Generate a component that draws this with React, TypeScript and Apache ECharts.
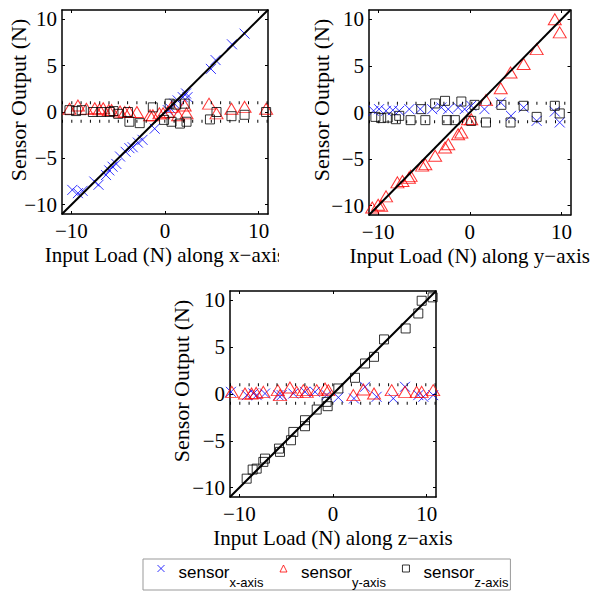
import React, { useEffect, useRef } from "react";
import * as echarts from "echarts";

// ---- tick values ----
const xTicks = [-10, 0, 10];
const yTicks = [-10, -5, 0, 5, 10];
const axisRange = [-11, 11];
const idealLine = [-11, 11];
const bandLevels = [-1, 1];

// ---- Plot 1: load along x-axis ----
const p1SxIn = [-9.9, -9.3, -8.8, -7.55, -7.1, -6.3, -5.95, -5.6, -5.2, -4.8, -4.2, -3.8, -3.45, -2.9, -2.4, -1.1, 0.3, 0.6, 1.0, 1.35, 1.9, 2.25, 2.4, 4.9, 5.4, 7.15, 8.5];
const p1SxOut = [-8.4, -8.75, -8.5, -7.5, -7.85, -6.8, -6.3, -5.9, -5.6, -4.8, -4.3, -3.9, -3.8, -3.3, -3.0, -1.8, 0.2, 0.35, 0.9, 1.25, 1.6, 2.0, 1.6, 4.65, 5.6, 7.3, 8.45];
const p1SyIn = [-10.2, -9.3, -8.4, -7.5, -7.0, -6.6, -6.0, -5.7, -4.8, -4.3, -3.8, -3.0, -1.6, -1.3, -0.6, -0.2, 0.3, 0.7, 1.4, 2.1, 2.3, 4.7, 5.5, 7.1, 8.5, 10.8];
const p1SyOut = [0.35, 0.7, 0.35, 0.4, 0.3, 0.4, 0.2, 0.2, 0.05, 0.0, 0.0, 0.0, -0.35, -0.35, -0.15, -0.15, 0.0, 0.55, -0.35, 0.7, -0.15, 0.9, -0.15, 0.35, 0.55, 0.35];
const p1SzIn = [-10.2, -9.5, -8.9, -7.7, -6.8, -5.9, -5.5, -5.0, -3.95, -3.8, -2.7, -1.3, -0.1, 0.5, 0.7, 1.2, 1.6, 2.1, 2.3, 4.8, 5.5, 7.1, 8.5, 10.8];
const p1SzOut = [0.2, 0.1, 0.2, 0.0, 0.0, 0.0, 0.1, -0.2, 0.0, -1.05, -1.2, 0.5, -0.85, 0.9, -1.05, 0.8, -1.25, 0.9, -1.05, -0.8, 0.0, -0.45, -0.3, 0.0];

// ---- Plot 2: load along y-axis ----
const p2SxIn = [-10.5, -9.9, -9.14, -8.4, -7.7, -6.6, -5.4, -4.1, -3.1, -2.35, -1.27, -0.56, 0.16, 1.6, 3.38, 4.5, 5.88, 7.3, 9.28, 9.82];
const p2SxOut = [0.18, 0.36, 0.18, 0.25, 0.18, 0.36, 0.36, 0.36, 0.54, 0.36, 0.54, 0.36, 0.72, 0.36, 1.07, -0.36, 0.54, -0.9, 0.1, -1.07];
const p2SyIn = [-10.65, -10.0, -9.67, -9.14, -7.9, -7.35, -6.64, -6.46, -5.2, -4.85, -3.78, -2.7, -2.35, -1.27, -0.92, -0.2, 0.16, 1.77, 3.38, 4.45, 5.88, 7.3, 9.28, 9.82];
const p2SyOut = [-10.2, -9.9, -10.0, -9.0, -7.5, -7.35, -7.0, -6.8, -5.7, -5.55, -4.65, -3.76, -3.4, -2.33, -2.15, -0.72, -0.72, 1.33, 2.6, 4.3, 5.2, 6.8, 10.0, 8.6];
const p2SzIn = [-10.3, -9.67, -8.96, -8.07, -7.7, -6.46, -5.3, -4.85, -3.78, -2.7, -2.5, -1.63, -0.92, 0.16, 0.52, 1.77, 3.45, 4.45, 5.88, 7.3, 9.28, 9.82];
const p2SzOut = [-0.47, -0.6, -0.54, -0.72, -0.36, -0.82, 0.36, -0.82, 0.97, 1.25, -0.82, -0.82, 1.18, -0.9, 0.82, -1.07, 0.82, -1.07, 0.72, -0.47, 0.72, -0.1];

// ---- Plot 3: load along z-axis ----
const p3SxIn = [-10.9, -9.2, -8.5, -8.15, -7.26, -5.84, -5.48, -4.24, -2.99, -1.92, -0.68, 0.57, 2.24, 3.42, 4.66, 6.44, 7.69, 9.11, 9.65, 10.7];
const p3SxOut = [0.23, -0.12, 0.05, -0.12, 0.05, -0.12, -0.12, 0.05, 0.23, 0.23, -0.12, -0.37, -0.48, 0.77, -0.3, -0.48, 0.77, -0.12, -0.3, -0.12];
const p3SyIn = [-10.8, -9.4, -8.7, -8.2, -7.44, -5.9, -5.66, -4.6, -3.88, -3.17, -2.8, -1.74, -0.85, -0.5, 2.17, 3.24, 4.38, 6.27, 7.69, 8.93, 9.47, 10.7];
const p3SyOut = [0.23, 0.05, 0.05, 0.12, 0.23, 0.41, -0.12, 0.7, 0.23, 0.41, 0.23, 0.41, 0.59, 0.41, -0.12, 0.48, 0.05, 0.41, 0.23, 0.23, 0.23, 0.41];
const p3SzIn = [-9.22, -8.58, -8.15, -7.44, -7.26, -5.77, -5.66, -4.49, -4.24, -2.99, -2.99, -1.74, -0.68, -0.57, 0.57, 2.35, 3.42, 4.38, 5.45, 7.76, 9.11, 9.47, 10.64];
const p3SzOut = [-9.04, -8.07, -7.97, -7.25, -6.9, -5.83, -6.18, -4.94, -4.05, -2.8, -3.44, -1.66, -0.84, -1.3, 0.59, 1.73, 3.26, 3.97, 5.83, 7.0, 8.6, 9.96, 10.32];

const xTitles = ["Input Load (N) along x\u2212axis", "Input Load (N) along y\u2212axis", "Input Load (N) along z\u2212axis"];
const yTitle = "Sensor Output (N)";
const seriesNames = ["sensorX", "sensorY", "sensorZ"];
const seriesSubs = ["x-axis", "y-axis", "z-axis"];

const plots = [
  { sx: [p1SxIn, p1SxOut], sy: [p1SyIn, p1SyOut], sz: [p1SzIn, p1SzOut] },
  { sx: [p2SxIn, p2SxOut], sy: [p2SyIn, p2SyOut], sz: [p2SzIn, p2SzOut] },
  { sx: [p3SxIn, p3SxOut], sy: [p3SyIn, p3SyOut], sz: [p3SzIn, p3SzOut] },
];

const grids = [
  { left: 62, top: 10, width: 206, height: 204 },
  { left: 369, top: 10, width: 205, height: 205 },
  { left: 230, top: 291, width: 206, height: 206 },
];
const yTitlePos = [
  [18, 100],
  [321, 100],
  [181, 381],
];

const SERIF = "'Liberation Serif', 'Times New Roman', serif";
const SANS = "'Liberation Sans', Arial, sans-serif";
const X_SYMBOL = "path://M0,0L10,10M10,0L0,10";
const fmt = (v: number) => (v < 0 ? "\u2212" + Math.abs(v) : String(v));
const zip = (a: number[], b: number[]) => a.map((v, i) => [v, b[i]]);

const markerStyles = [
  { symbol: X_SYMBOL, symbolSize: 10, itemStyle: { color: "#0000ff", borderColor: "#0000ff", borderWidth: 1 } },
  { symbol: "triangle", symbolSize: [13, 11], itemStyle: { color: "transparent", borderColor: "#ff0000", borderWidth: 1 } },
  { symbol: "rect", symbolSize: 9, itemStyle: { color: "transparent", borderColor: "#000", borderWidth: 1 } },
];
const legendIcons = [
  { icon: X_SYMBOL, itemStyle: { color: "#0000ff", borderColor: "#0000ff", borderWidth: 1 } },
  { icon: "triangle", itemStyle: { color: "transparent", borderColor: "#ff0000", borderWidth: 1 } },
  { icon: "rect", itemStyle: { color: "transparent", borderColor: "#000", borderWidth: 1 } },
];

export default function App() {
  const ref = useRef<HTMLDivElement>(null);
  useEffect(() => {
    if (!ref.current) return;
    const chart = echarts.init(ref.current, null, { renderer: "svg" });
    const xAxis: any[] = [];
    const yAxis: any[] = [];
    const series: any[] = [];
    grids.forEach((g, i) => {
      const axisLine = { onZero: false, lineStyle: { color: "#000", width: 1.5 } };
      xAxis.push({
        gridIndex: i, type: "value", min: axisRange[0], max: axisRange[1], position: "bottom",
        axisLine, splitLine: { show: false },
        axisTick: { inside: true, length: 3, customValues: xTicks, lineStyle: { color: "#000" } },
        axisLabel: { customValues: xTicks, formatter: fmt, fontFamily: SERIF, fontSize: 21, color: "#000", margin: 6 },
        name: xTitles[i], nameLocation: "middle", nameGap: 30,
        nameTextStyle: { fontFamily: SERIF, fontSize: 21, color: "#000" },
      });
      xAxis.push({
        gridIndex: i, type: "value", min: axisRange[0], max: axisRange[1], position: "top",
        axisLine, splitLine: { show: false },
        axisTick: { inside: true, length: 3, customValues: xTicks, lineStyle: { color: "#000" } },
        axisLabel: { show: false },
      });
      yAxis.push({
        gridIndex: i, type: "value", min: axisRange[0], max: axisRange[1], position: "left",
        axisLine, splitLine: { show: false },
        axisTick: { inside: true, length: 3, customValues: yTicks, lineStyle: { color: "#000" } },
        axisLabel: { customValues: yTicks, formatter: fmt, fontFamily: SERIF, fontSize: 21, color: "#000", margin: 5 },
      });
      yAxis.push({
        gridIndex: i, type: "value", min: axisRange[0], max: axisRange[1], position: "right",
        axisLine, splitLine: { show: false },
        axisTick: { inside: true, length: 3, customValues: yTicks, lineStyle: { color: "#000" } },
        axisLabel: { show: false },
      });
      const p = plots[i];
      const ax = { xAxisIndex: 2 * i, yAxisIndex: 2 * i };
      [p.sx, p.sy, p.sz].forEach((d, k) => {
        series.push({ ...ax, type: "scatter", name: seriesNames[k], data: zip(d[0], d[1]), ...markerStyles[k] });
      });
      series.push({
        ...ax, type: "line", name: "ideal", data: [[idealLine[0], idealLine[0]], [idealLine[1], idealLine[1]]],
        symbol: "none", lineStyle: { color: "#000", width: 2 },
      });
      bandLevels.forEach((b) => {
        series.push({
          ...ax, type: "line", name: "band", data: [[axisRange[0], b], [axisRange[1], b]],
          symbol: "none", lineStyle: { color: "#000", width: 3, type: [1, 8.3] },
        });
      });
    });

    const graphic: any[] = yTitlePos.map((pos) => ({
      type: "text", x: pos[0], y: pos[1], rotation: Math.PI / 2,
      style: { text: yTitle, font: `22px ${SERIF}`, fill: "#000", align: "center", verticalAlign: "middle" },
      z: 10,
    }));
    graphic.push({ type: "rect", shape: { x: 279, y: 238, width: 23, height: 38 }, style: { fill: "#fff" }, z: 100 });

    chart.setOption({
      animation: false,
      backgroundColor: "#fff",
      grid: grids.map((g) => ({ ...g, containLabel: false })),
      xAxis, yAxis, series, graphic,
      legend: {
        data: seriesNames.map((n, k) => ({ name: n, ...legendIcons[k] })),
        left: 143, top: 559, orient: "horizontal",
        itemWidth: 7, itemHeight: 7, itemGap: 16, padding: [1, 2, 1, 14],
        borderColor: "#999", borderWidth: 1, selectedMode: false,
        formatter: (n: string) => `{a|sensor}{b|${seriesSubs[seriesNames.indexOf(n)]}}`,
        textStyle: {
          fontFamily: SANS, color: "#000",
          rich: {
            a: { fontFamily: SANS, fontSize: 17, lineHeight: 17, verticalAlign: "top", padding: [4, 0, 0, 9], color: "#000" },
            b: { fontFamily: SANS, fontSize: 13, lineHeight: 13, verticalAlign: "top", padding: [16, 0, 0, 0], color: "#000" },
          },
        },
      },
    });
    return () => chart.dispose();
  }, []);
  return (
    <div ref={ref} style={{ position: "fixed", left: 0, top: 0, width: 592, height: 591, background: "#fff" }} />
  );
}
